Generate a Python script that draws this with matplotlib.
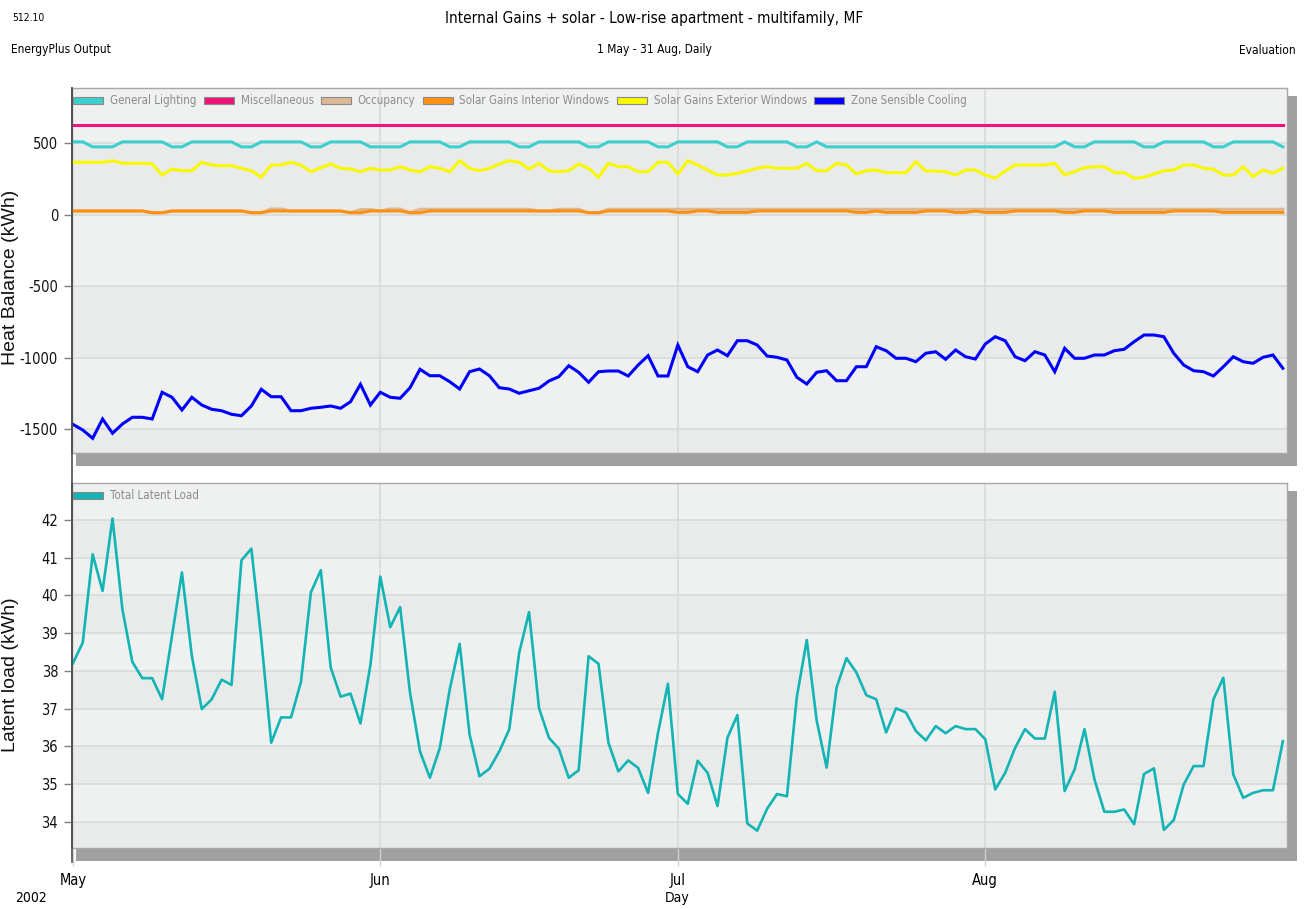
import numpy as np
import pandas as pd
import matplotlib
matplotlib.use("Agg")
import matplotlib.pyplot as plt
import matplotlib.dates as mdates
from matplotlib.patches import Patch, Rectangle
from matplotlib.lines import Line2D

# narrow look of the original: DejaVu Sans Condensed
plt.rcParams['font.family'] = ['DejaVu Sans']
plt.rcParams['font.stretch'] = 'condensed'
plt.rcParams['axes.unicode_minus'] = False

# Daily values, 1 May - 31 Aug 2002
days = pd.date_range('2002-05-01', '2002-08-31', freq='D')

general_lighting = [
    510, 510, 475, 475, 475, 510, 510, 510, 510, 510,
    475, 475, 510, 510, 510, 510, 510, 475, 475, 510,
    510, 510, 510, 510, 475, 475, 510, 510, 510, 510,
    475, 475, 475, 475, 510, 510, 510, 510, 475, 475,
    510, 510, 510, 510, 510, 475, 475, 510, 510, 510,
    510, 510, 475, 475, 510, 510, 510, 510, 510, 475,
    475, 510, 510, 510, 510, 510, 475, 475, 510, 510,
    510, 510, 510, 475, 475, 510, 475, 475, 475, 475,
    475, 475, 475, 475, 475, 475, 475, 475, 475, 475,
    475, 475, 475, 475, 475, 475, 475, 475, 475, 475,
    510, 475, 475, 510, 510, 510, 510, 510, 475, 475,
    510, 510, 510, 510, 510, 475, 475, 510, 510, 510,
    510, 510, 475]

miscellaneous = [
    630, 630, 630, 630, 630, 630, 630, 630, 630, 630,
    630, 630, 630, 630, 630, 630, 630, 630, 630, 630,
    630, 630, 630, 630, 630, 630, 630, 630, 630, 630,
    630, 630, 630, 630, 630, 630, 630, 630, 630, 630,
    630, 630, 630, 630, 630, 630, 630, 630, 630, 630,
    630, 630, 630, 630, 630, 630, 630, 630, 630, 630,
    630, 630, 630, 630, 630, 630, 630, 630, 630, 630,
    630, 630, 630, 630, 630, 630, 630, 630, 630, 630,
    630, 630, 630, 630, 630, 630, 630, 630, 630, 630,
    630, 630, 630, 630, 630, 630, 630, 630, 630, 630,
    630, 630, 630, 630, 630, 630, 630, 630, 630, 630,
    630, 630, 630, 630, 630, 630, 630, 630, 630, 630,
    630, 630, 630]

occupancy = [
    26, 26, 26, 26, 26, 26, 26, 26, 14, 14,
    26, 26, 26, 26, 26, 26, 26, 26, 14, 14,
    40, 40, 26, 26, 26, 26, 26, 26, 14, 36,
    36, 26, 40, 40, 14, 38, 38, 38, 38, 38,
    38, 38, 38, 38, 38, 38, 38, 26, 26, 38,
    38, 38, 14, 14, 38, 38, 38, 38, 38, 38,
    38, 38, 38, 38, 38, 38, 38, 38, 38, 38,
    38, 38, 38, 38, 38, 38, 38, 38, 38, 38,
    38, 38, 38, 38, 38, 38, 38, 38, 38, 38,
    38, 38, 38, 38, 38, 38, 38, 38, 38, 38,
    38, 38, 38, 38, 38, 38, 38, 38, 38, 38,
    38, 38, 38, 38, 38, 38, 38, 38, 38, 38,
    38, 38, 38]

solar_interior = [
    26, 26, 26, 26, 26, 26, 26, 26, 14, 14,
    26, 26, 26, 26, 26, 26, 26, 26, 14, 14,
    26, 26, 26, 26, 26, 26, 26, 26, 14, 14,
    26, 26, 26, 26, 14, 14, 26, 26, 26, 26,
    26, 26, 26, 26, 26, 26, 26, 26, 26, 26,
    26, 26, 14, 14, 26, 26, 26, 26, 26, 26,
    26, 16, 16, 26, 26, 16, 16, 16, 16, 26,
    26, 26, 26, 26, 26, 26, 26, 26, 26, 16,
    16, 26, 16, 16, 16, 16, 26, 26, 26, 16,
    16, 26, 16, 16, 16, 26, 26, 26, 26, 26,
    16, 16, 26, 26, 26, 16, 16, 16, 16, 16,
    16, 26, 26, 26, 26, 26, 16, 16, 16, 16,
    16, 16, 16]

solar_exterior = [
    367, 367, 367, 367, 378, 360, 360, 360, 355, 278,
    320, 308, 308, 367, 348, 343, 343, 325, 308, 262,
    348, 348, 367, 348, 301, 329, 355, 325, 320, 301,
    325, 313, 313, 336, 313, 301, 336, 325, 301, 378,
    325, 308, 325, 355, 378, 367, 320, 360, 308, 301,
    308, 355, 325, 262, 360, 336, 336, 301, 301, 367,
    367, 285, 378, 348, 313, 278, 278, 290, 306, 325,
    336, 325, 325, 325, 360, 308, 308, 360, 348, 285,
    308, 313, 294, 294, 294, 371, 306, 306, 301, 278,
    313, 313, 278, 255, 306, 348, 348, 348, 348, 360,
    278, 301, 329, 336, 336, 294, 294, 255, 262, 285,
    308, 313, 348, 348, 325, 318, 278, 278, 336, 266,
    313, 290, 325]

zone_sensible_cooling = [
    -1467, -1507, -1565, -1430, -1530, -1465, -1418, -1418, -1430, -1243,
    -1278, -1367, -1278, -1332, -1362, -1372, -1397, -1407, -1339, -1222,
    -1274, -1274, -1372, -1372, -1355, -1348, -1339, -1355, -1309, -1187,
    -1332, -1243, -1278, -1285, -1211, -1082, -1127, -1127, -1169, -1220,
    -1099, -1080, -1127, -1211, -1220, -1250, -1232, -1215, -1164, -1134,
    -1057, -1103, -1173, -1099, -1094, -1094, -1129, -1052, -987, -1129,
    -1129, -912, -1064, -1099, -982, -947, -987, -882, -882, -912,
    -989, -998, -1017, -1138, -1185, -1103, -1092, -1162, -1162, -1064,
    -1064, -924, -952, -1005, -1005, -1029, -970, -959, -1012, -947,
    -994, -1010, -905, -854, -882, -994, -1022, -959, -982, -1099,
    -935, -1005, -1005, -982, -982, -952, -942, -889, -842, -842,
    -854, -970, -1052, -1092, -1099, -1129, -1064, -994, -1029, -1040,
    -998, -982, -1075]

total_latent_load = [
    38.20, 38.75, 41.09, 40.12, 42.04, 39.63, 38.24, 37.81, 37.81, 37.25,
    38.93, 40.61, 38.40, 36.99, 37.25, 37.77, 37.63, 40.93, 41.24, 38.84,
    36.10, 36.77, 36.77, 37.71, 40.08, 40.67, 38.09, 37.32, 37.40, 36.61,
    38.15, 40.50, 39.16, 39.69, 37.42, 35.87, 35.17, 35.96, 37.51, 38.72,
    36.32, 35.21, 35.41, 35.87, 36.45, 38.48, 39.56, 37.02, 36.23, 35.94,
    35.17, 35.37, 38.39, 38.19, 36.10, 35.34, 35.63, 35.43, 34.77, 36.36,
    37.66, 34.74, 34.48, 35.62, 35.30, 34.42, 36.23, 36.83, 33.96, 33.77,
    34.35, 34.74, 34.68, 37.32, 38.82, 36.68, 35.44, 37.56, 38.34, 37.96,
    37.36, 37.25, 36.37, 37.01, 36.90, 36.41, 36.16, 36.54, 36.35, 36.54,
    36.46, 36.46, 36.19, 34.86, 35.30, 35.96, 36.46, 36.21, 36.21, 37.45,
    34.82, 35.39, 36.46, 35.13, 34.27, 34.27, 34.33, 33.94, 35.27, 35.42,
    33.79, 34.05, 34.99, 35.48, 35.48, 37.25, 37.82, 35.26, 34.64, 34.77,
    34.84, 34.84, 36.14]

top_ticks = [500, 0, -500, -1000, -1500]
bottom_ticks = [34, 35, 36, 37, 38, 39, 40, 41, 42]

W, H = 1309, 909


def fx(px):
    return px / W


def fy(py):
    return 1 - py / H


fig = plt.figure(figsize=(W / 100, H / 100), dpi=100)
fig.patch.set_facecolor('white')

# drop shadows behind the two panels
for top, bottom in [(88, 453), (483, 848)]:
    fig.add_artist(Rectangle((fx(76), fy(bottom + 13)), fx(1297) - fx(76), fy(bottom) - fy(bottom + 13),
                             transform=fig.transFigure, facecolor='#a0a0a0', edgecolor='none', zorder=0))
    fig.add_artist(Rectangle((fx(1287), fy(bottom + 13)), fx(1297) - fx(1287), fy(top + 8) - fy(bottom + 13),
                             transform=fig.transFigure, facecolor='#a0a0a0', edgecolor='none', zorder=0))

ax1 = fig.add_axes([fx(72), fy(453), fx(1287) - fx(72), fy(88) - fy(453)])
ax2 = fig.add_axes([fx(72), fy(848), fx(1287) - fx(72), fy(483) - fy(848)])

x0 = days[0] - pd.Timedelta(hours=2)
x1 = days[-1] + pd.Timedelta(hours=10)
month_starts = pd.to_datetime(['2002-05-01', '2002-06-01', '2002-07-01', '2002-08-01'])

light, dark = '#eff1f1', '#e9ebeb'


def style(ax, ylim, ticks, band_edges):
    ax.set_facecolor(light)
    ax.set_xlim(x0, x1)
    ax.set_ylim(*ylim)
    for i in range(len(band_edges) - 1):
        ax.axhspan(band_edges[i], band_edges[i + 1], color=dark if i % 2 == 0 else light, lw=0, zorder=0)
    ax.set_yticks(ticks)
    ax.set_xticks(month_starts)
    ax.grid(True, color='#d9dbdb', lw=1.2, zorder=1)
    ax.set_axisbelow(True)
    for s in ['top', 'right', 'bottom']:
        ax.spines[s].set_color('#a8a8a8')
        ax.spines[s].set_linewidth(1.0)
    ax.spines['left'].set_color('#505050')
    ax.spines['left'].set_linewidth(1.2)
    ax.tick_params(axis='y', length=6, width=1, color='#808080', labelsize=10.5, pad=4, labelcolor='#111111')


style(ax1, (-1668, 887), top_ticks, [-1668, -1500, -1000, -500, 0, 500, 887])
style(ax2, (33.31, 42.98), bottom_ticks, [33.31, 34, 35, 36, 37, 38, 39, 40, 41, 42, 42.98])
ax1.tick_params(axis='x', length=0, labelbottom=False)
ax2.tick_params(axis='x', length=13, width=1, color='#d0d0d0', labelsize=10.5, pad=5)
ax2.xaxis.set_major_formatter(mdates.DateFormatter('%b'))

series = [
    ('General Lighting', general_lighting, '#3ccfcf'),
    ('Miscellaneous', miscellaneous, '#f0147a'),
    ('Occupancy', occupancy, '#dcb894'),
    ('Solar Gains Interior Windows', solar_interior, '#ff9010'),
    ('Solar Gains Exterior Windows', solar_exterior, '#f8f800'),
    ('Zone Sensible Cooling', zone_sensible_cooling, '#0000ff'),
]
for name, vals, col in series:
    ax1.plot(days, vals, color=col, lw=2.2, zorder=3, solid_joinstyle='miter')

ax2.plot(days, total_latent_load, color='#12b4b4', lw=1.9, zorder=3)

leg_kw = dict(loc='upper left', bbox_to_anchor=(-0.004, 1.0), frameon=False, fontsize=8.3,
              labelcolor='#8c8c8c', handlelength=2.6, handleheight=0.5, handletextpad=0.6,
              columnspacing=0.62, borderaxespad=0.35, borderpad=0.2)
h1 = [Patch(facecolor=c, edgecolor='#8a8a8a', lw=0.8) for _, _, c in series]
ax1.legend(h1, [n for n, _, _ in series], ncol=6, **leg_kw)
ax2.legend([Patch(facecolor='#12b4b4', edgecolor='#8a8a8a', lw=0.8)], ['Total Latent Load'], **leg_kw)

# long dark axis line on the left, across both panels
fig.add_artist(Line2D([fx(72), fx(72)], [fy(88), fy(862)], transform=fig.transFigure,
                      color='#505050', lw=1.2, zorder=5))

lab_kw = dict(family=['Liberation Sans', 'DejaVu Sans'], fontstretch='normal', fontsize=14, color='#111111')
ax1.set_ylabel('Heat Balance (kWh)', **lab_kw)
ax2.set_ylabel('Latent load (kWh)', **lab_kw)
ax1.yaxis.set_label_coords(-0.0435, 0.48)
ax2.yaxis.set_label_coords(-0.0435, 0.474)

fig.text(fx(654), fy(19), 'Internal Gains + solar - Low-rise apartment - multifamily, MF',
         ha='center', va='center', fontsize=11)
fig.text(fx(654), fy(50), '1 May - 31 Aug, Daily', ha='center', va='center', fontsize=8.6)
fig.text(fx(12), fy(18), '512.10', ha='left', va='center', fontsize=7.5)
fig.text(fx(11), fy(50), 'EnergyPlus Output', ha='left', va='center', fontsize=8.6)
fig.text(fx(1296), fy(50), 'Evaluation', ha='right', va='center', fontsize=8.6)
fig.text(fx(31), fy(898), '2002', ha='center', va='center', fontsize=10)
fig.text(fx(677), fy(898), 'Day', ha='center', va='center', fontsize=10)

fig.savefig('out.png', dpi=100)
